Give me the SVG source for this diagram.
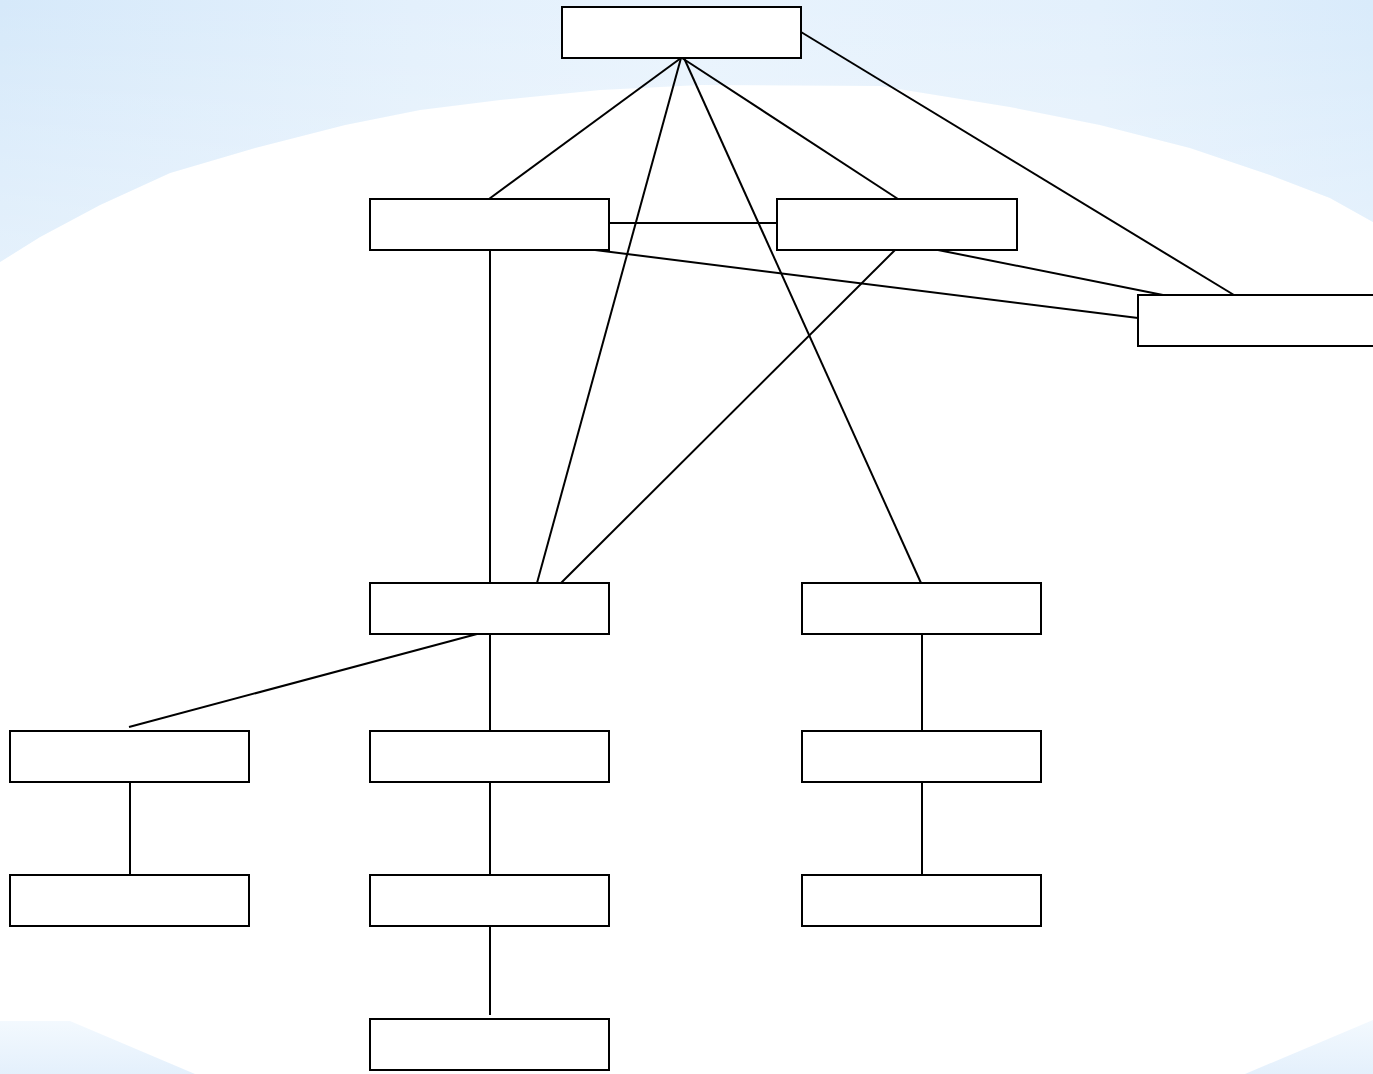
<svg xmlns="http://www.w3.org/2000/svg" width="1373" height="1074" viewBox="0 0 1373 1074">
<defs>
<linearGradient id="bgTop" x1="0" y1="0" x2="1" y2="0">
<stop offset="0" stop-color="#d6e9fa"/>
<stop offset="0.3" stop-color="#e3f0fc"/>
<stop offset="0.5" stop-color="#e8f3fd"/>
<stop offset="0.8" stop-color="#e3f0fc"/>
<stop offset="1" stop-color="#d9ebfb"/>
</linearGradient>
<linearGradient id="bgTopV" x1="0" y1="0" x2="0" y2="1">
<stop offset="0" stop-color="#ffffff" stop-opacity="0"/>
<stop offset="1" stop-color="#ffffff" stop-opacity="0.35"/>
</linearGradient>
<linearGradient id="bgBot" x1="0" y1="0" x2="0" y2="1">
<stop offset="0" stop-color="#f3f9fe"/>
<stop offset="1" stop-color="#e4f0fc"/>
</linearGradient>
<style>
.node rect{fill:#ffffff;stroke:#000000;stroke-width:2}
.edges line{stroke:#000000;stroke-width:2;fill:none}
</style>
</defs>
<g id="background">
<rect x="0" y="0" width="1373" height="1074" fill="#ffffff"/>
<path id="topband" d="M0,0 H1373 V222 L1330,198 L1270,175 L1190,148 L1100,125 L1010,107 L880,86 L700,85 L600,90 L500,100 L420,110 L345,125 L255,148 L170,173 L100,205 L40,237 L0,262 Z" fill="url(#bgTop)"/>
<path d="M0,0 H1373 V222 L1330,198 L1270,175 L1190,148 L1100,125 L1010,107 L880,86 L700,85 L600,90 L500,100 L420,110 L345,125 L255,148 L170,173 L100,205 L40,237 L0,262 Z" fill="url(#bgTopV)"/>
<path d="M0,1021 H70 L195,1074 H0 Z" fill="url(#bgBot)"/>
<path d="M1373,1020 V1074 H1245 Z" fill="url(#bgBot)"/>
</g>
<g id="connectors" class="edges">
<line x1="681" y1="58" x2="489" y2="199"/>
<line x1="681" y1="58" x2="537" y2="583"/>
<line x1="684" y1="58" x2="921" y2="583"/>
<line x1="682" y1="58" x2="898" y2="199"/>
<line x1="801" y1="32" x2="1234" y2="295"/>
<line x1="609" y1="223" x2="777" y2="223"/>
<line x1="595" y1="250" x2="1138" y2="318"/>
<line x1="938" y1="250" x2="1163" y2="295"/>
<line x1="895" y1="250" x2="561" y2="583"/>
<line x1="490" y1="250" x2="490" y2="583"/>
<line x1="477" y1="634" x2="129" y2="727"/>
<line x1="490" y1="634" x2="490" y2="731"/>
<line x1="490" y1="782" x2="490" y2="875"/>
<line x1="490" y1="926" x2="490" y2="1015"/>
<line x1="130" y1="782" x2="130" y2="875"/>
<line x1="922" y1="634" x2="922" y2="731"/>
<line x1="922" y1="782" x2="922" y2="875"/>
</g>
<g id="node-top" class="node"><rect x="562" y="7" width="239" height="51"/></g>
<g id="node-a" class="node"><rect x="370" y="199" width="239" height="51"/></g>
<g id="node-b" class="node"><rect x="777" y="199" width="240" height="51"/></g>
<g id="node-c" class="node"><rect x="1138" y="295" width="240" height="51"/></g>
<g id="node-d" class="node"><rect x="370" y="583" width="239" height="51"/></g>
<g id="node-e" class="node"><rect x="802" y="583" width="239" height="51"/></g>
<g id="node-f" class="node"><rect x="10" y="731" width="239" height="51"/></g>
<g id="node-g" class="node"><rect x="370" y="731" width="239" height="51"/></g>
<g id="node-h" class="node"><rect x="802" y="731" width="239" height="51"/></g>
<g id="node-i" class="node"><rect x="10" y="875" width="239" height="51"/></g>
<g id="node-j" class="node"><rect x="370" y="875" width="239" height="51"/></g>
<g id="node-k" class="node"><rect x="802" y="875" width="239" height="51"/></g>
<g id="node-l" class="node"><rect x="370" y="1019" width="239" height="51"/></g>
</svg>
